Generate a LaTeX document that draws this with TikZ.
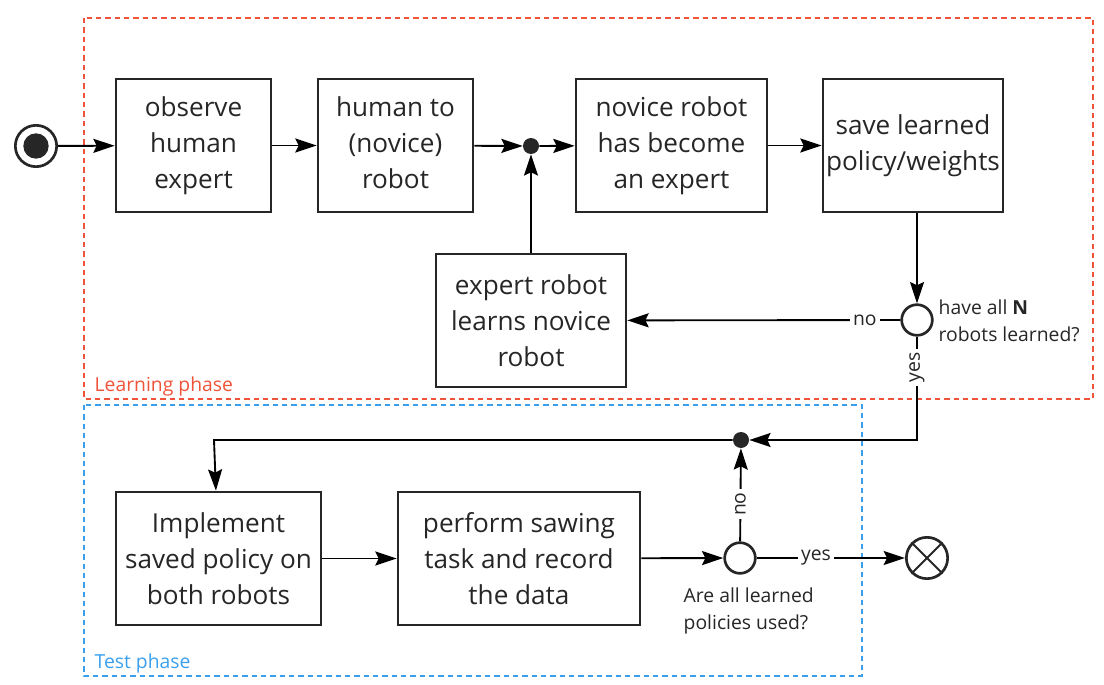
\documentclass[tikz,border=0pt]{standalone}
\usepackage{fontspec}
\setmainfont{Open Sans}
\usepackage{xcolor}
\usetikzlibrary{arrows.meta,positioning}
\definecolor{learnred}{HTML}{F0533A}
\definecolor{testblue}{HTML}{3AA0EE}
\definecolor{boxgray}{HTML}{262626}

\tikzset{
  stepbox/.style = {draw=boxgray, line width=2pt, align=center, text=boxgray,
                    font=\fontsize{19.6}{27}\selectfont, minimum height=99.75pt, inner sep=0pt},
  flow/.style    = {line width=1.4pt, -{Stealth[length=16pt,width=10.5pt,inset=2.5pt]}},
  plain/.style   = {line width=1.4pt},
  junction/.style= {circle, fill=boxgray, inner sep=0pt, minimum size=12pt},
  decision/.style= {circle, draw=boxgray, line width=2pt, inner sep=0pt, minimum size=23pt},
  small/.style   = {font=\fontsize{14.5}{20.5}\selectfont, text=boxgray},
  edgelabel/.style = {small, fill=white, inner sep=2.5pt},
  phase/.style   = {line width=0.8pt, dash pattern=on 4pt off 3pt}
}

\begin{document}
\begin{tikzpicture}[x=0.75pt, y=-0.75pt]
    \useasboundingbox (0,0) rectangle (1104,685);

    % phases
    \draw[phase, learnred] (84,18) rectangle (1093,399);
    \draw[phase, testblue] (84,405) rectangle (862,676);
    \node[small, text=learnred, anchor=west] (learnlbl) at (90,386) {Learning phase};
    \node[small, text=testblue, anchor=west] (testlbl) at (90,663) {Test phase};

    % start and end
    \node[circle, draw=boxgray, line width=2pt, minimum size=31pt, inner sep=0pt] (start) at (36,146) {};
    \node[circle, fill=boxgray, minimum size=19pt, inner sep=0pt] at (start) {};
    \node[circle, draw=boxgray, line width=2pt, minimum size=31pt, inner sep=0pt] (stop) at (927,558) {};
    \draw[line width=1.5pt, boxgray] (stop.north west) -- (stop.south east);
    \draw[line width=1.5pt, boxgray] (stop.north east) -- (stop.south west);

    % learning phase
    \node[stepbox, minimum width=116.25pt] (observe) at (193.5,145.5) {observe\\human\\expert};
    \node[stepbox, minimum width=116.25pt] (teach) at (395.5,145.5) {\raisebox{2.2pt}{\begin{tabular}{@{}c@{}}human to\\(novice)\\robot\end{tabular}}};
    \node[junction] (join) at (531,146) {};
    \node[stepbox, minimum width=143.25pt] (novice) at (671.5,145.5) {novice robot\\has become\\an expert};
    \node[stepbox, minimum width=135pt] (save) at (913,145.5) {save learned\\policy/weights};
    \node[stepbox, minimum width=142.5pt] (learns) at (531,320.5) {expert robot\\learns novice\\robot};
    \node[decision] (allN) at (917,320) {};
    \node[small, anchor=west, align=left] (allNq) at (934,321) {have all \textbf{N}\\robots learned?};

    % test phase
    \node[junction] (merge) at (741,440) {};
    \node[stepbox, minimum width=153.75pt] (implement) at (218.5,558.5) {Implement\\saved policy on\\both robots};
    \node[stepbox, minimum width=181.5pt] (sawing) at (519,558.5) {perform sawing\\task and record\\the data};
    \node[decision] (used) at (740,558) {};
    \node[small, anchor=north west, align=left] (usedq) at (679,583) {Are all learned\\policies used?};

    \coordinate (turn1) at (917,438);
    \coordinate (turn2) at (214,440);

    \draw[flow] (start) -- (observe);
    \draw[flow] (observe) -- (teach);
    \draw[flow] (teach) -- (join);
    \draw[flow] (join) -- (novice);
    \draw[flow] (novice) -- (save);
    \draw[flow] (learns) -- (join);
    \draw[flow] (save.south -| allN) -- (allN);
    \draw[flow] (allN) -- node[edgelabel, pos=0.13] {no} (learns);
    \draw[flow] (allN) -- node[edgelabel, rotate=90, pos=0.3] {yes} (allN |- merge) -- (merge);
    \draw[flow] (merge) -- (turn2) -- (implement);
    \draw[flow] (implement) -- (sawing);
    \draw[flow] (sawing) -- (used);
    \draw[flow] (used) -- node[edgelabel, rotate=90, pos=0.4] {no} (merge);
    \draw[flow] (used) -- node[edgelabel, pos=0.4] {yes} (stop);
\end{tikzpicture}
\end{document}
